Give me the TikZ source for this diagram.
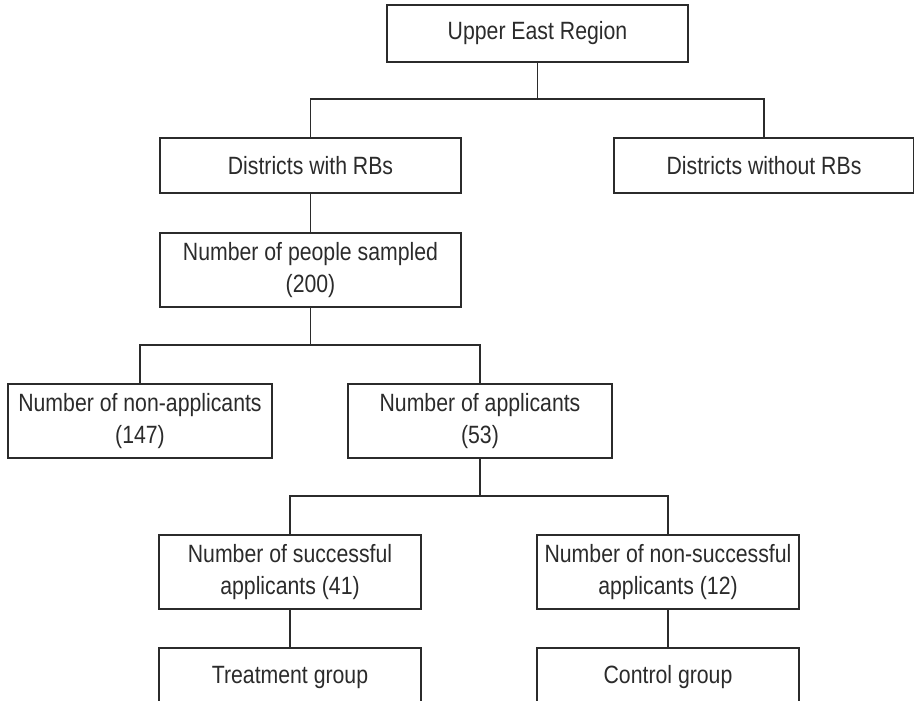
\documentclass[tikz,border=0pt]{standalone}
\usepackage{fontspec}
\setmainfont{Liberation Sans}[FakeStretch=0.85]
\usepackage{tikz}
\tikzset{>=latex}
\definecolor{boxline}{HTML}{2B2B2B}
\tikzset{box/.style={draw=boxline, text=boxline, line width=1.4pt, align=center, inner sep=0pt, font=\fontsize{25}{32}\selectfont}}
\tikzset{link/.style={draw=boxline, line width=1.4pt}}

\begin{document}
\begin{tikzpicture}[x=1pt, y=1pt]
            \useasboundingbox (0, 0) rectangle (914, -701);
            \node[box, minimum width=301, minimum height=57] (ue) at (537.5, -33.5) {Upper East Region};
            \node[box, minimum width=301, minimum height=55] (dw) at (310.5, -165.5) {Districts with RBs};
            \node[box, minimum width=300, minimum height=55] (dwo) at (764, -165.5) {Districts without RBs};
            \node[box, minimum width=301, minimum height=74] (ps) at (310.5, -270) {Number of people sampled\\(200)};
            \node[box, minimum width=264, minimum height=74] (na) at (140, -421) {Number of non-applicants\\(147)};
            \node[box, minimum width=264, minimum height=74] (ap) at (480, -421) {Number of applicants\\(53)};
            \node[box, minimum width=262, minimum height=74] (sa) at (290, -572) {Number of successful\\applicants (41)};
            \node[box, minimum width=262, minimum height=74] (ns) at (668, -572) {Number of non-successful\\applicants (12)};
            \node[box, minimum width=262, minimum height=58] (tg) at (290, -677) {Treatment group};
            \node[box, minimum width=262, minimum height=58] (cg) at (668, -677) {Control group};
            \coordinate (j1) at (537.5, -99);
            \coordinate (j2) at (310.5, -345);
            \coordinate (j3) at (480, -496);
            \draw[link] (ue.south) -- (j1) -| (dw.north);
            \draw[link] (j1) -| (dwo.north);
            \draw[link] (dw.south) -- (ps.north);
            \draw[link] (ps.south) -- (j2) -| (na.north);
            \draw[link] (j2) -| (ap.north);
            \draw[link] (ap.south) -- (j3) -| (sa.north);
            \draw[link] (j3) -| (ns.north);
            \draw[link] (sa.south) -- (tg.north);
            \draw[link] (ns.south) -- (cg.north);
        \end{tikzpicture}
\end{document}
